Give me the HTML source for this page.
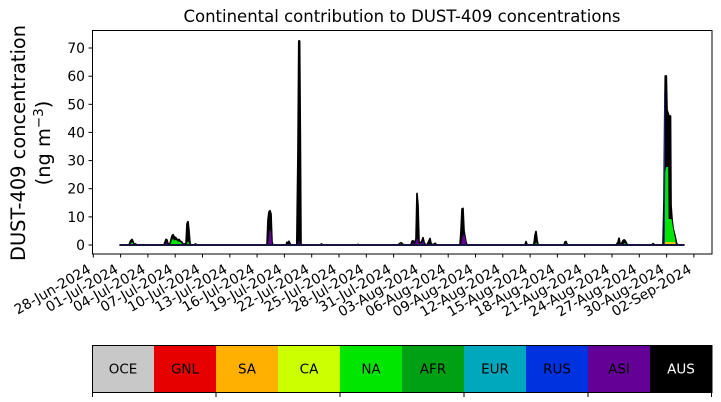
<!DOCTYPE html>
<html><head><meta charset="utf-8"><style>
html,body{margin:0;padding:0;background:#fff;}
svg{display:block}
text{font-family:"DejaVu Sans","Liberation Sans",sans-serif;fill:#000}
</style></head><body>
<svg width="721" height="402" viewBox="0 0 721 402" xmlns="http://www.w3.org/2000/svg">
<rect width="721" height="402" fill="#fff"/>

<!-- title -->
<text x="402" y="22" font-size="16.5" text-anchor="middle">Continental contribution to DUST-409 concentrations</text>

<!-- y label -->
<text transform="translate(25,143) rotate(-90)" font-size="19.4" text-anchor="middle">DUST-409 concentration</text>
<text transform="translate(50,143) rotate(-90)" font-size="19.4" text-anchor="middle">(ng m<tspan font-size="13.5" dy="-7">−3</tspan><tspan dy="7">)</tspan></text>

<!-- data: total envelope (AUS top, black) -->
<polygon fill="#000" stroke="#000" stroke-width="1.7" stroke-linejoin="round" points="
120,245 129,245 130.5,241 132,239.4 133,241.6 134,244.2 135.5,243.9 137,245
164,245 166,239.4 167,240 168,244.2 170,243.6 172,236 173,234.6 174,236.6 176,238 177,239.4 178,240.5 179,239.4 180,240.8 182,242.2 183,244.2 186,243.6 187,223.9 188,221.6 189,230.9 190,243.6 191,245
194,245 195.5,244 197,245
267,245 268,219.7 269,211.8 270,210.7 271,214 272,242.2 273,245
286,245 287,242.2 288,244.2 289,241.3 290,243.6 291,245
296.8,245 298,150 298.8,41 299.6,41 300.3,132 301,245
320,245 321.5,243.9 323,245
357,245 358,244.4 359,245
398,245 400,243.3 401,242.7 403,244.4 405,245
411,245 412,241.3 413,240.8 414,243.6 416,239.4 417,193.5 418,205.6 419,242.2 420,243.6 422,240.8 423,237.7 424,242.2 425,244.2 427,245 429,240.8 430,238.5 431,243.6 432,244.4 434,244.4 435,243.3 436,244.2 437,245
460,245 461,230.9 462,209 463,208.4 464,230.9 465,236.6 466,242.2 467,245
525,245 526,241.6 527,244.4 528,245
533,245 534,243.6 535,235.2 536,231.5 537,239.4 538,245
564,245 565,241.9 566,241.6 567,244.2 568,245
616,245 618,242.2 619,238.2 620,243.6 621,244.4 622,242.7 623,240.8 624,239.9 625,240.5 626,242.2 627,244.2 628,245
652,245 653,243.6 654,244.4 655,245
663,245 664,200 664.7,120 665.3,76 666.3,76 667,110 669,116 670.5,116 671,205 672,219 673,228 675,236 676.5,243 677.5,245
684,245"/>

<!-- RUS (blue) on flank of big peak -->
<polygon fill="#1a2a90" points="663.6,245 664.2,92 664.8,90 665,245"/>

<!-- ASI (purple) -->
<g fill="#640096">
<polygon points="165,245 166,242 167,243 168,245"/>
<polygon points="268,245 269,234 270,229 271,232 272,244 273,245"/>
<polygon points="298,245 299,240 300,245"/>
<polygon points="412,245 413,242 414,244.5 416,242 417,238 418,240 419,244 422,242.5 423,241 424,244 425,245"/>
<polygon points="461,245 462,240 463,236 464,234 465,237 466,242.5 467,245"/>
</g>

<!-- AFR (dark green) -->
<polygon fill="#00a014" points="172,245 174,241 176,242 178,245"/>

<!-- NA (green) -->
<g fill="#00e600">
<polygon points="130,245 131.5,242.5 132,242 133,243.5 134,245"/>
<polygon points="170,245 172,240 173,238.5 174,240.5 176,240 178,241.5 180,242 182,243.5 183,245"/>
<polygon points="186.5,245 187.5,242 188.5,241.5 189.5,245"/>
<polygon points="535,245 536,242 537,244 538,245"/>
<polygon points="565,245 566,243 567,245"/>
<polygon points="623,245 624,243.5 625,243 626,244 627,245"/>
<polygon points="664.8,245 665.2,172 666,167 668.2,167 668.6,219 671.5,219 673,228 675,238 676,245"/>
</g>

<!-- CA / SA (yellow / orange) -->
<g fill="#ccff00">
<polygon points="131,245 132,243.5 133,245"/>
<polygon points="321,245 322,243.5 323,245"/>
<polygon points="399,245 400.5,243.5 402,245"/>
<polygon points="618,245 619,243.5 620,245"/>
</g>
<polygon fill="#e8cc00" points="664.8,245 665,242 675.2,242 675.7,245"/>

<!-- baseline thick line -->
<line x1="120" y1="245" x2="684" y2="245" stroke="#14143c" stroke-width="2"/>

<!-- axes frame -->
<rect x="92.5" y="30.5" width="619.5" height="223.5" fill="none" stroke="#000" stroke-width="1"/>

<!-- y ticks -->
<g stroke="#000" stroke-width="1">
<line x1="88.5" y1="245" x2="92" y2="245"/>
<line x1="88.5" y1="216.9" x2="92" y2="216.9"/>
<line x1="88.5" y1="188.7" x2="92" y2="188.7"/>
<line x1="88.5" y1="160.6" x2="92" y2="160.6"/>
<line x1="88.5" y1="132.4" x2="92" y2="132.4"/>
<line x1="88.5" y1="104.3" x2="92" y2="104.3"/>
<line x1="88.5" y1="76.2" x2="92" y2="76.2"/>
<line x1="88.5" y1="48" x2="92" y2="48"/>
</g>
<g font-size="13.9" text-anchor="end">
<text x="85" y="250">0</text>
<text x="85" y="221.9">10</text>
<text x="85" y="193.7">20</text>
<text x="85" y="165.6">30</text>
<text x="85" y="137.4">40</text>
<text x="85" y="109.3">50</text>
<text x="85" y="81.2">60</text>
<text x="85" y="53">70</text>
</g>

<!-- x ticks -->
<g stroke="#000" stroke-width="1">
<line x1="93.3" y1="254" x2="93.3" y2="257.5"/>
<line x1="120.6" y1="254" x2="120.6" y2="257.5"/>
<line x1="147.9" y1="254" x2="147.9" y2="257.5"/>
<line x1="175.2" y1="254" x2="175.2" y2="257.5"/>
<line x1="202.5" y1="254" x2="202.5" y2="257.5"/>
<line x1="229.8" y1="254" x2="229.8" y2="257.5"/>
<line x1="257.1" y1="254" x2="257.1" y2="257.5"/>
<line x1="284.4" y1="254" x2="284.4" y2="257.5"/>
<line x1="311.7" y1="254" x2="311.7" y2="257.5"/>
<line x1="339" y1="254" x2="339" y2="257.5"/>
<line x1="366.3" y1="254" x2="366.3" y2="257.5"/>
<line x1="393.6" y1="254" x2="393.6" y2="257.5"/>
<line x1="420.9" y1="254" x2="420.9" y2="257.5"/>
<line x1="448.2" y1="254" x2="448.2" y2="257.5"/>
<line x1="475.5" y1="254" x2="475.5" y2="257.5"/>
<line x1="502.8" y1="254" x2="502.8" y2="257.5"/>
<line x1="530.1" y1="254" x2="530.1" y2="257.5"/>
<line x1="557.4" y1="254" x2="557.4" y2="257.5"/>
<line x1="584.7" y1="254" x2="584.7" y2="257.5"/>
<line x1="612" y1="254" x2="612" y2="257.5"/>
<line x1="639.3" y1="254" x2="639.3" y2="257.5"/>
<line x1="666.6" y1="254" x2="666.6" y2="257.5"/>
<line x1="693.9" y1="254" x2="693.9" y2="257.5"/>
</g>
<g font-size="13.9" text-anchor="end">
<text transform="translate(91.8,272) rotate(-30)">28-Jun-2024</text>
<text transform="translate(119.1,272) rotate(-30)">01-Jul-2024</text>
<text transform="translate(146.4,272) rotate(-30)">04-Jul-2024</text>
<text transform="translate(173.7,272) rotate(-30)">07-Jul-2024</text>
<text transform="translate(201,272) rotate(-30)">10-Jul-2024</text>
<text transform="translate(228.3,272) rotate(-30)">13-Jul-2024</text>
<text transform="translate(255.6,272) rotate(-30)">16-Jul-2024</text>
<text transform="translate(282.9,272) rotate(-30)">19-Jul-2024</text>
<text transform="translate(310.2,272) rotate(-30)">22-Jul-2024</text>
<text transform="translate(337.5,272) rotate(-30)">25-Jul-2024</text>
<text transform="translate(364.8,272) rotate(-30)">28-Jul-2024</text>
<text transform="translate(392.1,272) rotate(-30)">31-Jul-2024</text>
<text transform="translate(419.4,272) rotate(-30)">03-Aug-2024</text>
<text transform="translate(446.7,272) rotate(-30)">06-Aug-2024</text>
<text transform="translate(474,272) rotate(-30)">09-Aug-2024</text>
<text transform="translate(501.3,272) rotate(-30)">12-Aug-2024</text>
<text transform="translate(528.6,272) rotate(-30)">15-Aug-2024</text>
<text transform="translate(555.9,272) rotate(-30)">18-Aug-2024</text>
<text transform="translate(583.2,272) rotate(-30)">21-Aug-2024</text>
<text transform="translate(610.5,272) rotate(-30)">24-Aug-2024</text>
<text transform="translate(637.8,272) rotate(-30)">27-Aug-2024</text>
<text transform="translate(665.1,272) rotate(-30)">30-Aug-2024</text>
<text transform="translate(692.4,272) rotate(-30)">02-Sep-2024</text>
</g>

<!-- colorbar legend -->
<g>
<rect x="92" y="345.5" width="62" height="47" fill="#c8c8c8"/>
<rect x="154" y="345.5" width="62" height="47" fill="#e60000"/>
<rect x="216" y="345.5" width="62" height="47" fill="#ffb000"/>
<rect x="278" y="345.5" width="62" height="47" fill="#ccff00"/>
<rect x="340" y="345.5" width="62" height="47" fill="#00e600"/>
<rect x="402" y="345.5" width="62" height="47" fill="#00a014"/>
<rect x="464" y="345.5" width="62" height="47" fill="#00a8be"/>
<rect x="526" y="345.5" width="62" height="47" fill="#0032e0"/>
<rect x="588" y="345.5" width="62" height="47" fill="#640096"/>
<rect x="650" y="345.5" width="62" height="47" fill="#000"/>
<rect x="92.5" y="345.5" width="619.5" height="47" fill="none" stroke="#000" stroke-width="1"/>
</g>
<g font-size="13.5" text-anchor="middle">
<text x="123" y="373.5">OCE</text>
<text x="185" y="373.5">GNL</text>
<text x="247" y="373.5">SA</text>
<text x="309" y="373.5">CA</text>
<text x="371" y="373.5">NA</text>
<text x="433" y="373.5">AFR</text>
<text x="495" y="373.5">EUR</text>
<text x="557" y="373.5">RUS</text>
<text x="619" y="373.5">ASI</text>
<text x="681" y="373.5" style="fill:#fff">AUS</text>
</g>
<g stroke="#000" stroke-width="1">
<line x1="92.5" y1="392.5" x2="92.5" y2="397"/>
<line x1="216" y1="392.5" x2="216" y2="397"/>
<line x1="340" y1="392.5" x2="340" y2="397"/>
<line x1="464" y1="392.5" x2="464" y2="397"/>
<line x1="588" y1="392.5" x2="588" y2="397"/>
<line x1="711.5" y1="392.5" x2="711.5" y2="397"/>
</g>
</svg>
</body></html>
